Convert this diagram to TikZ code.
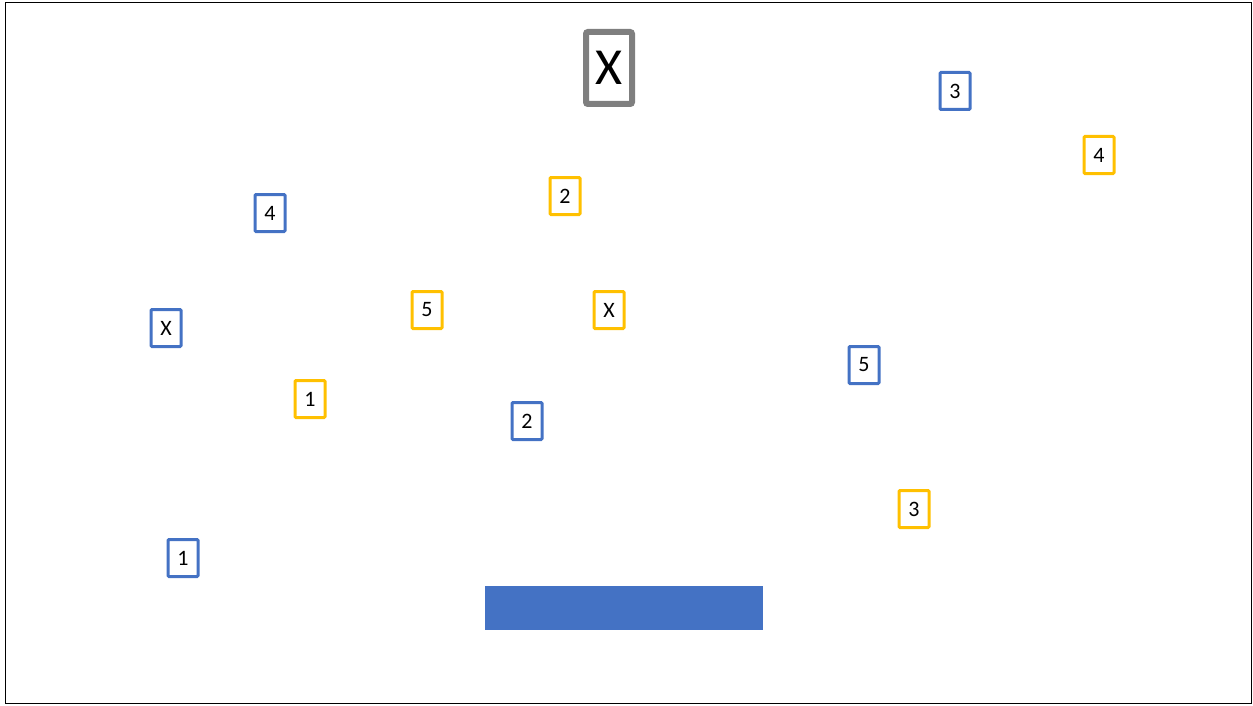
\documentclass[tikz,border=0pt]{standalone}
\usepackage{fontspec}
\setmainfont{Carlito}
\definecolor{bblue}{HTML}{4472C4}
\definecolor{byellow}{HTML}{FFC000}
\definecolor{bgray}{HTML}{7F7F7F}
\begin{document}
\begin{tikzpicture}[x=1pt,y=-1pt,
  card/.style={draw,line width=3pt,minimum width=30pt,minimum height=37pt,inner sep=0pt,font=\fontsize{22}{24}\selectfont,rounded corners=1pt},
  bcard/.style={card,draw=bblue},
  ycard/.style={card,draw=byellow}]
\useasboundingbox (0,0) rectangle (1253,706);
\draw[line width=1pt] (5,3) rectangle (1251,703);
\node[draw=bgray,line width=6pt,minimum width=46pt,minimum height=72pt,inner sep=0pt,rounded corners=2pt,font=\fontsize{52}{54}\selectfont] (bigx) at (609,68) {X};
\node[bcard] (b3) at (955,91) {3};
\node[ycard] (y4) at (1099,155) {4};
\node[ycard] (y2) at (565,196) {2};
\node[bcard] (b4) at (270,213) {4};
\node[ycard] (y5) at (427,310) {5};
\node[ycard] (yx) at (609,310) {X};
\node[bcard] (bx) at (166,328) {X};
\node[bcard] (b5) at (864,365) {5};
\node[ycard] (y1) at (310,399) {1};
\node[bcard] (b2) at (527,421) {2};
\node[ycard] (y3) at (914,509) {3};
\node[bcard] (b1) at (183,558) {1};
\fill[bblue] (485,586) rectangle (763,630);
\end{tikzpicture}
\end{document}
